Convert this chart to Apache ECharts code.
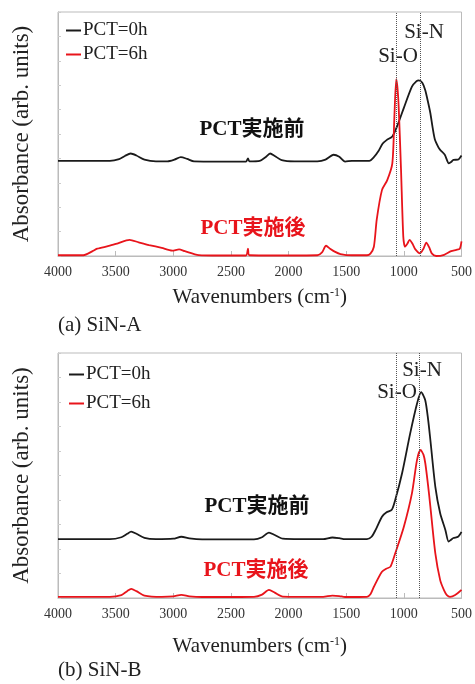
<!DOCTYPE html>
<html>
<head>
<meta charset="utf-8">
<script src="https://cdn.jsdelivr.net/npm/echarts@6/dist/echarts.min.js"></script>
<style>html,body{margin:0;padding:0;background:#fff;}#c{width:475px;height:684px;}</style>
</head>
<body>
<div id="c"></div>
<script>
// ---- data ----
var xTicks = [4000, 3500, 3000, 2500, 2000, 1500, 1000, 500];
var seriesNames = ['PCT=0h', 'PCT=6h'];
// (a) SiN-A
var sinA_0h = [[4000,3.9],[3700,3.9],[3550,3.9],[3470,3.97],[3420,4.1],[3370,4.2],[3320,4.12],[3250,3.95],[3150,3.88],[3050,3.88],[2990,3.95],[2935,4.05],[2880,3.98],[2820,3.88],[2600,3.87],[2370,3.87],[2352,4.0],[2340,3.88],[2250,3.9],[2200,4.05],[2160,4.2],[2120,4.1],[2060,3.93],[1950,3.88],[1750,3.88],[1680,3.95],[1610,4.15],[1560,4.07],[1510,3.87],[1450,3.9],[1300,3.9],[1260,4.05],[1220,4.3],[1185,4.6],[1150,4.75],[1100,4.9],[1060,5.3],[1000,6.07],[930,6.94],[890,7.17],[870,7.2],[840,7.1],[815,6.8],[790,6.3],[770,5.85],[750,5.25],[730,4.76],[700,4.45],[685,4.35],[645,4.15],[610,3.8],[590,3.85],[570,3.94],[530,3.95],[500,4.12]];
var sinA_6h = [[4000,0.03],[3780,0.03],[3700,0.2],[3660,0.3],[3560,0.41],[3480,0.52],[3380,0.66],[3300,0.56],[3210,0.45],[3100,0.33],[3010,0.22],[2950,0.27],[2900,0.2],[2780,0.04],[2600,0.02],[2370,0.02],[2352,0.3],[2340,0.03],[2000,0.02],[1750,0.03],[1710,0.15],[1675,0.42],[1640,0.3],[1600,0.18],[1550,0.08],[1450,0.03],[1320,0.03],[1290,0.1],[1260,0.38],[1235,1.5],[1190,2.7],[1145,3.1],[1100,3.8],[1083,5.6],[1066,7.25],[1048,6.4],[1025,3.6],[1005,0.8],[990,0.38],[970,0.5],[950,0.66],[925,0.5],[900,0.27],[860,0.11],[830,0.3],[805,0.55],[780,0.35],[758,0.11],[720,0.0],[650,0.05],[590,0.2],[545,0.25],[515,0.3],[500,0.6]];
var sinA_marks = [1070, 860];
// (b) SiN-B
var sinB_0h = [[4000,2.4],[3550,2.4],[3450,2.48],[3400,2.62],[3365,2.71],[3320,2.62],[3250,2.45],[3150,2.4],[3000,2.42],[2930,2.5],[2860,2.43],[2750,2.39],[2300,2.39],[2230,2.48],[2170,2.67],[2120,2.57],[2050,2.42],[1900,2.4],[1700,2.4],[1620,2.47],[1560,2.44],[1510,2.4],[1320,2.4],[1280,2.5],[1245,2.78],[1190,3.32],[1150,3.5],[1105,3.6],[1075,4.0],[1015,5.1],[945,6.72],[885,7.95],[850,8.4],[815,8.08],[790,7.3],[770,6.45],[727,4.54],[685,3.46],[640,2.78],[612,2.3],[590,2.38],[570,2.45],[530,2.5],[500,2.7]];
var sinB_6h = [[4000,0.05],[3550,0.05],[3450,0.12],[3400,0.28],[3365,0.37],[3320,0.28],[3250,0.1],[3100,0.05],[3000,0.07],[2930,0.13],[2860,0.07],[2750,0.04],[2300,0.05],[2230,0.14],[2170,0.33],[2120,0.22],[2050,0.06],[1900,0.05],[1700,0.05],[1620,0.1],[1560,0.08],[1510,0.04],[1320,0.05],[1290,0.15],[1260,0.46],[1190,1.07],[1150,1.2],[1116,1.28],[1075,1.82],[1000,2.91],[930,4.27],[886,5.63],[855,6.04],[830,5.85],[814,5.5],[790,4.6],[770,3.73],[727,1.82],[685,0.73],[650,0.3],[627,0.12],[600,0.05],[555,0.12],[500,0.33]];
var sinB_marks = [1070, 870];
var yName = 'Absorbance (arb. units)';
var xName = 'Wavenumbers (cm{sup|-1})';

// ---- styling ----
var SERIF = '"Liberation Serif", "Times New Roman", serif';
var MIX = '"Liberation Serif", "Noto Sans CJK JP", serif';
var BLACK = '#1a1a1a', RED = '#e8141b';

function xAxis(gi, gap) {
  return {
    gridIndex: gi, type: 'value', min: 500, max: 4000, interval: 500, inverse: true,
    axisLine: {show: true, lineStyle: {color: '#bbbbbb'}},
    axisTick: {show: true, inside: true, length: 5, lineStyle: {color: '#bbbbbb'}},
    axisLabel: {fontFamily: SERIF, fontSize: 14, color: '#333', margin: 9,
      formatter: function (v) { return xTicks.indexOf(v) >= 0 ? String(v) : ''; }},
    splitLine: {show: false},
    name: xName, nameLocation: 'middle', nameGap: gap,
    nameTextStyle: {fontFamily: SERIF, fontSize: 21, color: '#222',
      rich: {sup: {fontFamily: SERIF, fontSize: 12, color: '#222', padding: [0, 0, 9, 0]}}}
  };
}
function yAxis(gi) {
  return {
    gridIndex: gi, type: 'value', min: 0, max: 10, interval: 1,
    axisLine: {show: true, lineStyle: {color: '#bbbbbb'}},
    axisTick: {show: true, inside: true, length: 3, lineStyle: {color: '#cccccc'}},
    axisLabel: {show: false}, splitLine: {show: false},
    name: yName, nameLocation: 'middle', nameGap: 25,
    nameTextStyle: {fontFamily: SERIF, fontSize: 23, color: '#222'}
  };
}
function lineSeries(name, gi, data, color, marks) {
  var s = {
    name: name, type: 'line', xAxisIndex: gi, yAxisIndex: gi, data: data,
    showSymbol: false, smooth: 0.25, lineStyle: {color: color, width: 1.8},
    itemStyle: {color: color}, animation: false
  };
  if (marks) {
    s.markLine = {silent: true, symbol: 'none', label: {show: false},
      lineStyle: {color: '#555', type: 'dotted', width: 1},
      data: marks.map(function (m) { return {xAxis: m}; })};
  }
  return s;
}
function txt(x, y, str, size, color, bold, font, align) {
  return {type: 'text', x: x, y: y, style: {text: str, fontSize: size, fill: color,
    fontWeight: bold ? 'bold' : 'normal', fontFamily: font || SERIF,
    textAlign: align || 'center', textVerticalAlign: 'middle'}};
}

var chart = echarts.init(document.getElementById('c'), null, {renderer: 'canvas'});
chart.setOption({
  backgroundColor: '#fff',
  animation: false,
  grid: [
    {left: 58, right: 10, top: 12, height: 244, show: true, borderColor: '#bbbbbb', borderWidth: 1},
    {left: 58, right: 12, top: 353, height: 245, show: true, borderColor: '#bbbbbb', borderWidth: 1}
  ],
  legend: [
    {left: 61, top: 16, orient: 'vertical', itemGap: 5, itemWidth: 15, itemHeight: 2, icon: 'rect',
     data: seriesNames, textStyle: {fontFamily: SERIF, fontSize: 19, lineHeight: 18, color: '#222', padding: [0, 0, 0, -3]}},
    {left: 64, top: 360, orient: 'vertical', itemGap: 10, itemWidth: 15, itemHeight: 2, icon: 'rect',
     data: seriesNames, textStyle: {fontFamily: SERIF, fontSize: 19, lineHeight: 18, color: '#222', padding: [0, 0, 0, -3]}}
  ],
  xAxis: [xAxis(0, 31), xAxis(1, 38)],
  yAxis: [yAxis(0), yAxis(1)],
  series: [
    lineSeries(seriesNames[0], 0, sinA_0h, BLACK, sinA_marks),
    lineSeries(seriesNames[1], 0, sinA_6h, RED),
    lineSeries(seriesNames[0], 1, sinB_0h, BLACK, sinB_marks),
    lineSeries(seriesNames[1], 1, sinB_6h, RED)
  ],
  graphic: [
    txt(252, 130, 'PCT実施前', 21, '#111', true, MIX),
    txt(253, 229, 'PCT実施後', 21, RED, true, MIX),
    txt(257, 507, 'PCT実施前', 21, '#111', true, MIX),
    txt(256, 571, 'PCT実施後', 21, RED, true, MIX),
    txt(424, 32, 'Si-N', 21, '#222'),
    txt(398, 56, 'Si-O', 21, '#222'),
    txt(422, 370, 'Si-N', 21, '#222'),
    txt(397, 392, 'Si-O', 21, '#222'),
    txt(58, 325, '(a) SiN-A', 21, '#222', false, SERIF, 'left'),
    txt(58, 670, '(b) SiN-B', 21, '#222', false, SERIF, 'left')
  ]
});
</script>
</body>
</html>
